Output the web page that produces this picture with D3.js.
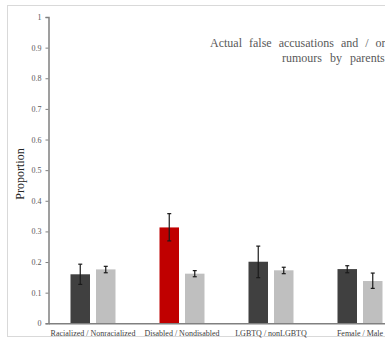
<!DOCTYPE html>
<html>
<head>
<meta charset="utf-8">
<script src="https://cdn.jsdelivr.net/npm/d3@7"></script>
<style>
  body { margin: 0; background: #fff; }
  svg { display: block; font-family: "Liberation Serif", "Times New Roman", serif; }
</style>
</head>
<body>
<script>
// group labels and bar values
var categories = ["Racialized / Nonracialized", "Disabled / Nondisabled", "LGBTQ / nonLGBTQ", "Female / Male"];
var firstValues = [0.160, 0.313, 0.201, 0.177];   // dark (red for disabled)
var firstLow    = [0.127, 0.269, 0.149, 0.165];
var firstHigh   = [0.193, 0.358, 0.252, 0.188];
var secondValues = [0.176, 0.162, 0.173, 0.138];  // light grey
var secondLow    = [0.165, 0.152, 0.162, 0.114];
var secondHigh   = [0.186, 0.172, 0.183, 0.164];
var yTicks = [0, 0.1, 0.2, 0.3, 0.4, 0.5, 0.6, 0.7, 0.8, 0.9, 1];
var titleLines = ["Actual false accusations and / or", "rumours by parents"];

var W = 385, H = 339;
var svg = d3.select("body").append("svg")
    .attr("width", W)
    .attr("height", H);

// outer frame (chart is cropped on the right)
svg.append("rect")
    .attr("x", 7.5).attr("y", 5.5)
    .attr("width", 500).attr("height", 331)
    .attr("fill", "none")
    .attr("stroke", "#d9d9d9");

var x0 = 48.5, yTop = 17, yBottom = 323.3;
var bandW = 89;

var x = d3.scaleBand()
    .domain(categories)
    .range([x0, x0 + bandW * categories.length]);

var y = d3.scaleLinear()
    .domain([0, 1])
    .range([yBottom, yTop]);

var barW = 19.5;
var rows = categories.map(function(c, i) {
    return [
        {cat: c, k: 0, v: firstValues[i], lo: firstLow[i], hi: firstHigh[i],
         color: i === 1 ? "#c00000" : "#404040"},
        {cat: c, k: 1, v: secondValues[i], lo: secondLow[i], hi: secondHigh[i],
         color: "#bfbfbf"}
    ];
}).flat();

function barX(d) {
    var c = x(d.cat) + x.bandwidth() / 2;
    return d.k === 0 ? c - 3 - barW : c + 3;
}

svg.append("g")
    .selectAll("rect")
    .data(rows)
    .enter()
    .append("rect")
    .attr("x", barX)
    .attr("y", function(d) { return y(d.v); })
    .attr("width", barW)
    .attr("height", function(d) { return y(0) - y(d.v); })
    .attr("fill", function(d) { return d.color; });

// error bars
var eb = svg.append("g")
    .attr("stroke", "#1a1a1a")
    .attr("stroke-width", 1.2)
    .selectAll("g")
    .data(rows)
    .enter()
    .append("g");

eb.append("line")
    .attr("x1", function(d) { return barX(d) + barW / 2; })
    .attr("x2", function(d) { return barX(d) + barW / 2; })
    .attr("y1", function(d) { return y(d.lo); })
    .attr("y2", function(d) { return y(d.hi); });
eb.selectAll("line.cap")
    .data(function(d) { return [d.lo, d.hi].map(function(v) { return {d: d, v: v}; }); })
    .enter()
    .append("line")
    .attr("class", "cap")
    .attr("x1", function(e) { return barX(e.d) + barW / 2 - 2; })
    .attr("x2", function(e) { return barX(e.d) + barW / 2 + 2; })
    .attr("y1", function(e) { return y(e.v); })
    .attr("y2", function(e) { return y(e.v); });

// y axis
var yAxis = svg.append("g")
    .attr("transform", "translate(" + x0 + ",0)")
    .style("color", "#595959")
    .call(d3.axisLeft(y).tickValues(yTicks).tickSize(3).tickPadding(4)
        .tickFormat(function(d) { return d === 0 || d === 1 ? d3.format("d")(d) : d3.format(".1f")(d); }));
yAxis.select(".domain").attr("stroke", "#808080").attr("stroke-width", 1.5);
yAxis.selectAll(".tick line").attr("stroke", "#808080");
yAxis.selectAll(".tick text")
    .style("fill", "#595959")
    .style("font-family", "Liberation Serif, serif")
    .style("font-size", "8px");

// x axis
var xAxis = svg.append("g")
    .attr("transform", "translate(0," + yBottom + ")")
    .style("color", "#404040")
    .call(d3.axisBottom(x).tickSize(0).tickPadding(7));
xAxis.select(".domain").attr("stroke", "#808080").attr("stroke-width", 1.5);
xAxis.selectAll(".tick text")
    .style("fill", "#404040")
    .style("font-family", "Liberation Serif, serif")
    .style("font-size", "8px");

// y label
svg.append("text")
    .attr("transform", "translate(24,174) rotate(-90)")
    .attr("text-anchor", "middle")
    .style("fill", "#262626")
    .style("font-size", "12px")
    .text("Proportion");

// title (right part cropped away, as in the source)
var titleX = [210, 282];
svg.append("g")
    .selectAll("text")
    .data(titleLines)
    .enter()
    .append("text")
    .attr("x", function(d, i) { return titleX[i]; })
    .attr("y", function(d, i) { return 47 + i * 15; })
    .style("fill", "#595959")
    .style("font-size", "12px")
    .style("word-spacing", function(d, i) { return i === 0 ? "4px" : "5px"; })
    .text(function(d) { return d; });
</script>
</body>
</html>
